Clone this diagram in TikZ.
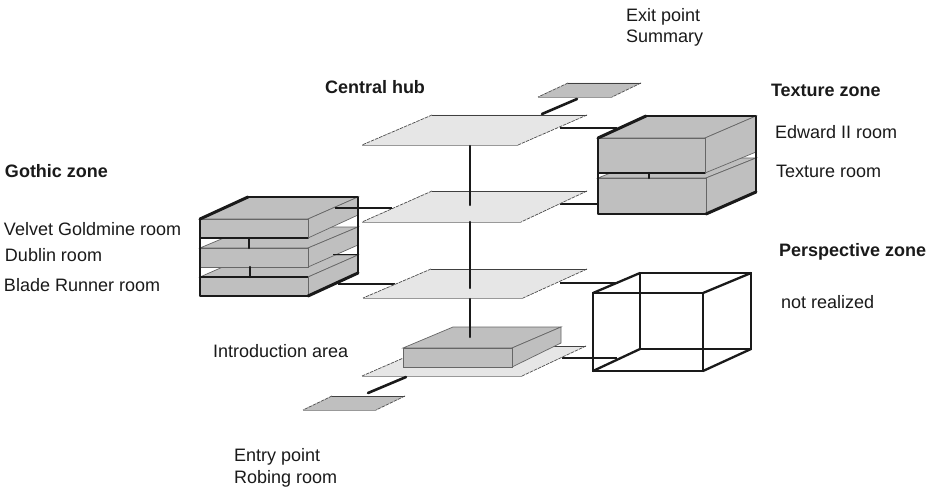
\documentclass[tikz,border=0pt]{standalone}
\usepackage{fontspec}
\setmainfont{Liberation Sans}
\definecolor{slabgrey}{HTML}{BFBFBF}
\definecolor{planegrey}{HTML}{E6E6E6}
\definecolor{inkblack}{HTML}{1A1A1A}
\tikzset{
  lab/.style={anchor=base west,inner sep=0pt,outer sep=0pt,font=\fontsize{18}{20}\selectfont,text=inkblack},
  zone/.style={lab,font=\fontsize{18}{20}\selectfont\bfseries},
  planeface/.style={fill=planegrey,draw=none},
  tile/.style={fill=slabgrey,draw=none},
  thinedge/.style={draw=black!75,line width=.8pt},
  diagedge/.style={draw=black!70,line width=.7pt,dash pattern=on 3.5pt off 1pt},
  softedge/.style={draw=black!40,line width=.8pt},
  slabface/.style={fill=slabgrey,draw=black!60,line width=.7pt},
  heavy/.style={draw=inkblack,line width=2.3pt,line join=miter},
  outline/.style={draw=inkblack,line width=1.6pt,line join=round},
  medium/.style={draw=inkblack,line width=1.4pt},
  hairlink/.style={draw=inkblack,line width=1pt},
  link/.style={draw=inkblack,line width=1.8pt},
  wire/.style={draw=inkblack,line width=2.2pt,line cap=round,line join=round},
  bold edge/.style={draw=inkblack,line width=3pt,line cap=round},
}
\newcommand{\floorplane}[5][planeface]{
  \path[#1] #2 -- #3 -- #4 -- #5 -- cycle;
  \draw[thinedge] #2 -- #3;
  \draw[diagedge] #3 -- #4;
  \draw[diagedge] #2 -- #5;
  \draw[softedge] #5 -- #4;
}
\newcommand{\slabbox}[8]{
  \path[slabface] (#1,#5) -- (#4,#7) -- (#3,#7) -- (#2,#5) -- cycle;
  \path[slabface] (#2,#5) -- (#3,#7) -- (#3,#8) -- (#2,#6) -- cycle;
  \path[slabface] (#1,#5) rectangle (#2,#6);
}
\begin{document}
\begin{tikzpicture}[x=1pt,y=-1pt]
\useasboundingbox[fill=white] (0,0) rectangle (933,489);

% connector ends
\coordinate (hubtop) at (470,146);
\coordinate (hubmidA) at (470,205);
\coordinate (hubmidB) at (470,222);
\coordinate (hubmidC) at (470,288);
\coordinate (hublowA) at (470,299);
\coordinate (hublowB) at (470,337);
\coordinate (exitA) at (577,99);
\coordinate (exitB) at (542,114);
\coordinate (entryA) at (406,377);
\coordinate (entryB) at (368,393);
\coordinate (gothA) at (335,208);
\coordinate (gothB) at (392,208);
\coordinate (gothC) at (338,284);
\coordinate (gothD) at (395,284);
\coordinate (gothE) at (249,238);
\coordinate (gothF) at (249,248);
\coordinate (gothG) at (250,267);
\coordinate (gothH) at (250,277);
\coordinate (gothI) at (333,254.5);
\coordinate (gothJ) at (358,254.5);
\coordinate (texA) at (560,128);
\coordinate (texB) at (617,128);
\coordinate (texC) at (560,204);
\coordinate (texD) at (598,204);
\coordinate (texE) at (649,173);
\coordinate (texF) at (649,178);
\coordinate (perA) at (560,283);
\coordinate (perB) at (618,283);
\coordinate (perC) at (562,358);
\coordinate (perD) at (617,358);

% links to the zones
\draw[link] (gothC) -- (gothD);
\draw[link] (texA) -- (texB);
\draw[link] (texC) -- (texD);
\draw[link] (perA) -- (perB);
\draw[link] (perC) -- (perD);

% planes
\floorplane{(432,115)}{(587,115)}{(518,145)}{(362,145)}
\floorplane{(432,191)}{(587,191)}{(521,222)}{(362,222)}
\floorplane{(431,269)}{(587,269)}{(523,298)}{(363,298)}
\floorplane{(431,346)}{(586,346)}{(522,376)}{(362,376)}
\floorplane[tile]{(568,83)}{(641,83)}{(612,97)}{(538,97)}
\floorplane[tile]{(332,396)}{(405,396)}{(376,410)}{(303,410)}

% hub line and small links
\draw[wire,line width=2.6pt] (exitA) -- (exitB);
\draw[wire,line width=2.6pt] (entryA) -- (entryB);
\draw[wire] (hubmidB) -- (hubmidC);

% Introduction slab
\path[slabface] (403,348) -- (453,327) -- (561,327) -- (512,348) -- cycle;
\path[slabface] (512,348) -- (561,327) -- (561,343) -- (512,367) -- cycle;
\path[slabface] (403,348) rectangle (512,367);
\draw[wire] (hublowA) -- (hublowB);
\draw[wire] (hubtop) -- (hubmidA);

% Gothic zone
\slabbox{200}{308}{358}{250}{277}{296}{255}{273}
\slabbox{200}{308}{358}{250}{248}{267}{227}{245}
\slabbox{200}{308}{358}{248}{219}{238}{197}{215}
\draw[medium] (200,238) -- (308,238);
\draw[medium] (200,277) -- (308,277);
\draw[wire] (gothE) -- (gothF);
\draw[wire] (gothG) -- (gothH);
\draw[outline] (200,296) -- (200,219) -- (248,197) -- (358,197) -- (358,273) -- (308,296) -- cycle;
\draw[bold edge] (200,219) -- (248,197);
\draw[bold edge] (358,273) -- (308,296);
\draw[link] (gothA) -- (gothB);
\draw[hairlink] (gothI) -- (gothJ);

% Texture zone
\slabbox{598}{706}{756}{648}{178}{214}{158}{192}
\slabbox{598}{705}{756}{646}{138}{173}{116}{152}
\draw[medium] (598,173) -- (705,173);
\draw[wire] (texE) -- (texF);
\draw[outline] (598,214) -- (598,138) -- (646,116) -- (756,116) -- (756,192) -- (706,214) -- cycle;
\draw[bold edge] (598,138) -- (646,116);
\draw[bold edge] (756,192) -- (706,214);

% Perspective cube
\draw[heavy] (593,293) rectangle (703,371);
\draw[heavy] (640,273) rectangle (751,349);
\draw[heavy] (593,293) -- (640,273);
\draw[heavy] (703,293) -- (751,273);
\draw[heavy] (593,371) -- (640,349);
\draw[heavy] (703,371) -- (751,349);

% labels
\node[zone] (hub) at (325,94) {Central hub};
\node[zone] (texzone) at (771,97) {Texture zone};
\node[zone] (gothzone) at (5,177) {Gothic zone};
\node[zone] (perzone) at (779,256) {Perspective zone};
\node[lab] (exit1) at (626,22) {Exit point};
\node[lab] (exit2) at (626,43) {Summary};
\node[lab] (edward) at (775,139) {Edward II room};
\node[lab] (texroom) at (776,178) {Texture room};
\node[lab] (notreal) at (781,308) {not realized};
\node[lab] (velvet) at (4,235) {Velvet Goldmine room};
\node[lab] (dublin) at (5,261) {Dublin room};
\node[lab] (blade) at (4,291) {Blade Runner room};
\node[lab] (intro) at (213,357) {Introduction area};
\node[lab] (entry1) at (234,461) {Entry point};
\node[lab] (entry2) at (234,483) {Robing room};
\end{tikzpicture}
\end{document}
